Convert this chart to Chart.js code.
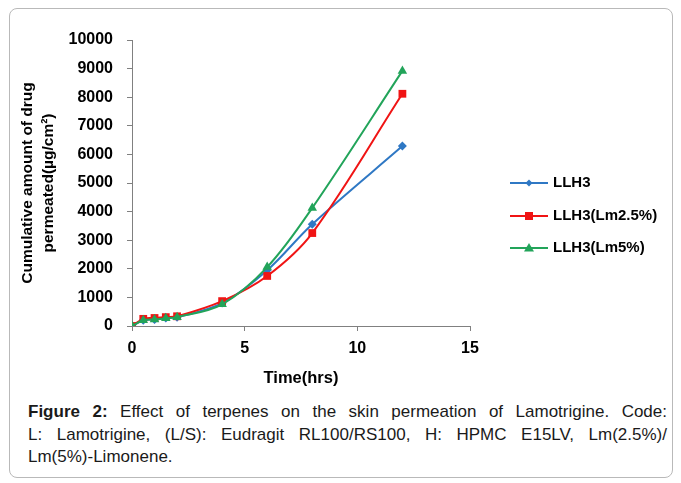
<!DOCTYPE html>
<html>
<head>
<meta charset="utf-8">
<script src="https://cdn.jsdelivr.net/npm/chart.js@4"></script>
<style>
  html,body{margin:0;padding:0;background:#fff;}
  #page{position:relative;width:681px;height:483px;overflow:hidden;font-family:"Liberation Sans",Arial,sans-serif;}
  #frame{position:absolute;left:9px;top:8px;width:664px;height:470px;border:1px solid #b9b9b9;border-radius:8px;box-sizing:border-box;}
  #wrap{position:absolute;left:0;top:0;width:681px;height:395px;}
  #legend{position:absolute;left:508px;top:172px;}
  .lg{position:absolute;left:0;white-space:nowrap;height:20px;}
  .lg canvas{position:absolute;left:0;top:0;}
  .lg span{position:absolute;left:45px;top:1px;font:bold 15px "Liberation Sans",Arial,sans-serif;color:#000;}
  #caption{position:absolute;left:28px;top:401px;width:639px;font-size:17px;line-height:22.5px;color:#1a1a1a;}
  #caption .j{text-align:justify;text-align-last:justify;}
</style>
</head>
<body>
<div id="page">
  <div id="frame"></div>
  <div id="wrap"><canvas id="c"></canvas></div>
  <div id="legend"></div>
  <div id="caption">
    <div class="j"><b>Figure 2:</b> Effect of terpenes on the skin permeation of Lamotrigine. Code:</div>
    <div class="j">L: Lamotrigine, (L/S): Eudragit RL100/RS100, H: HPMC E15LV, Lm(2.5%)/</div>
    <div>Lm(5%)-Limonene.</div>
  </div>
</div>
<script>
// time points (hrs) and cumulative permeation (ug/cm2)
const hours    = [0, 0.5, 1, 1.5, 2, 4, 6, 8, 12];
const llh3     = [0, 200, 230, 280, 310, 800, 1950, 3560, 6290];
const llh3Lm25 = [0, 250, 280, 310, 340, 870, 1750, 3250, 8120];
const llh3Lm5  = [0, 200, 230, 270, 310, 760, 2060, 4130, 8920];
const seriesNames = ['LLH3', 'LLH3(Lm2.5%)', 'LLH3(Lm5%)'];
const xTicks = [0, 5, 10, 15];

const BLUE='#2f78c4', RED='#f01414', GREEN='#22a45a';
const FONT='"Liberation Sans", Arial, sans-serif';

function pts(ys){ return hours.map((h,i)=>({x:h, y:ys[i]})) }

const sets = [
  {label:seriesNames[0], data:pts(llh3), color:BLUE, style:'rectRot', r:4.5, order:3},
  {label:seriesNames[1], data:pts(llh3Lm25), color:RED, style:'rect', r:5.5, order:2},
  {label:seriesNames[2], data:pts(llh3Lm5), color:GREEN, style:'triangle', r:5.5, order:1},
];

new Chart(document.getElementById('c'), {
  type:'line',
  data:{
    datasets: sets.map(s=>({
      label:s.label, data:s.data, order:s.order,
      borderColor:s.color, backgroundColor:s.color,
      pointBackgroundColor:s.color, pointBorderColor:s.color,
      pointStyle:s.style, pointRadius:s.r, pointBorderWidth:0,
      borderWidth:2, tension:0.35, fill:false
    }))
  },
  options:{
    responsive:true, maintainAspectRatio:false, animation:false,
    layout:{padding:{left:10, right:211, top:40, bottom:7}},
    plugins:{legend:{display:false}, tooltip:{enabled:false}},
    scales:{
      x:{
        type:'linear', min:0, max:15,
        afterBuildTicks: s=>{ s.ticks = xTicks.map(v=>({value:v})) },
        afterFit: s=>{ s.height = 62 },
        grid:{drawOnChartArea:false, drawTicks:true, tickLength:5, tickColor:'#808080'},
        border:{color:'#808080', width:1},
        ticks:{color:'#000', padding:8, font:{family:FONT, size:16, weight:'bold'}, callback:v=>String(v)},
        title:{display:true, text:'Time(hrs)', color:'#000', padding:{top:4,bottom:0},
          font:{family:FONT, size:16.5, weight:'bold'}}
      },
      y:{
        min:0, max:10000,
        ticks:{stepSize:1000, color:'#000', padding:14, font:{family:FONT, size:16, weight:'bold'}, callback:v=>String(v)},
        afterFit: s=>{ s.width = 122 },
        grid:{drawOnChartArea:false, drawTicks:true, tickLength:5, tickColor:'#808080'},
        border:{color:'#808080', width:1},
        title:{display:true, text:['Cumulative amount of drug','permeated(\u00b5g/cm\u00b2)'], color:'#000',
          padding:{top:8,bottom:0}, font:{family:FONT, size:15.5, weight:'bold', lineHeight:1.3}}
      }
    }
  }
});

// legend: line with marker, like the spreadsheet original
const legendTops=[0, 33, 65];
sets.forEach((s,i)=>{
  const row=document.createElement('div'); row.className='lg'; row.style.top=legendTops[i]+'px';
  const cv=document.createElement('canvas'); cv.width=42; cv.height=20;
  const g=cv.getContext('2d');
  g.strokeStyle=s.color; g.fillStyle=s.color; g.lineWidth=2;
  g.beginPath(); g.moveTo(2,11); g.lineTo(40,11); g.stroke();
  g.beginPath();
  if(s.style==='rect'){ g.rect(17,7,8,8); }
  else if(s.style==='triangle'){ g.moveTo(21,6); g.lineTo(26,14.5); g.lineTo(16,14.5); g.closePath(); }
  else { g.moveTo(21,7.5); g.lineTo(24.5,11); g.lineTo(21,14.5); g.lineTo(17.5,11); g.closePath(); }
  g.fill();
  const t=document.createElement('span'); t.textContent=s.label;
  row.appendChild(cv); row.appendChild(t);
  document.getElementById('legend').appendChild(row);
});
</script>
</body>
</html>
